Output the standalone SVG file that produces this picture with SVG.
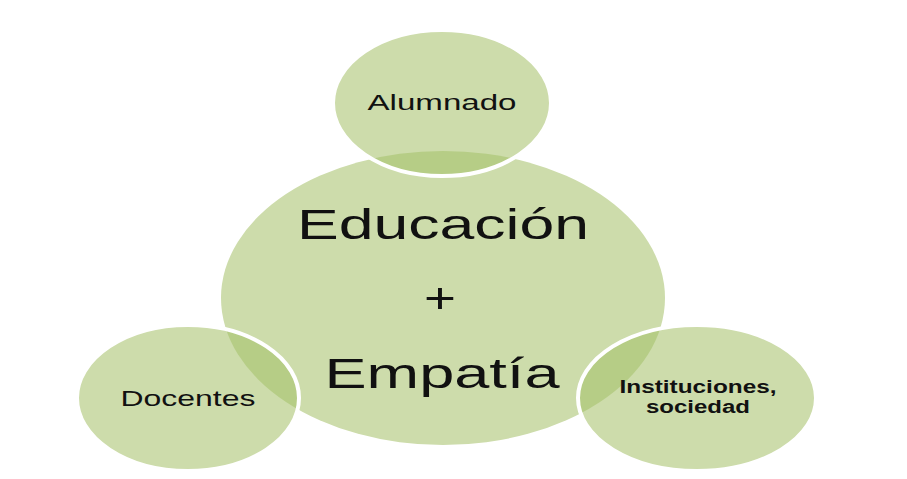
<svg xmlns="http://www.w3.org/2000/svg" width="907" height="479" viewBox="0 0 907 479">
<style>
.c{fill:#cddcab}
.s{fill:none;stroke:#ffffff;stroke-width:4}
.o{fill:#b6cd86}
.t{font-family:"Liberation Sans","DejaVu Sans",sans-serif;fill:#111111;text-anchor:middle}
</style>
<defs>
<clipPath id="cA"><ellipse cx="442" cy="103" rx="109" ry="73"/></clipPath>
<clipPath id="cD"><ellipse cx="188" cy="398" rx="111" ry="73"/></clipPath>
<clipPath id="cI"><ellipse cx="697" cy="398" rx="119" ry="73"/></clipPath>
</defs>
<rect width="907" height="479" fill="#ffffff"/>
<g id="center">
<ellipse class="c" cx="443" cy="298" rx="222" ry="147"/>
</g>
<g id="alumnado">
<ellipse class="c" cx="442" cy="103" rx="109" ry="73"/>
<ellipse class="o" cx="443" cy="298" rx="222" ry="147" clip-path="url(#cA)"/>
<ellipse class="s" cx="442" cy="103" rx="109" ry="73"/>
<text class="t" x="442" y="110" font-size="22" textLength="149" lengthAdjust="spacingAndGlyphs">Alumnado</text>
</g>
<g id="docentes">
<ellipse class="c" cx="188" cy="398" rx="111" ry="73"/>
<ellipse class="o" cx="443" cy="298" rx="222" ry="147" clip-path="url(#cD)"/>
<ellipse class="s" cx="188" cy="398" rx="111" ry="73"/>
<text class="t" x="188" y="406" font-size="22" textLength="135" lengthAdjust="spacingAndGlyphs">Docentes</text>
</g>
<g id="instituciones">
<ellipse class="c" cx="697" cy="398" rx="119" ry="73"/>
<ellipse class="o" cx="443" cy="298" rx="222" ry="147" clip-path="url(#cI)"/>
<ellipse class="s" cx="697" cy="398" rx="119" ry="73"/>
<text class="t" x="698" y="393" font-size="18" font-weight="bold" textLength="157" lengthAdjust="spacingAndGlyphs">Instituciones,</text>
<text class="t" x="698" y="413" font-size="18" font-weight="bold" textLength="104" lengthAdjust="spacingAndGlyphs">sociedad</text>
</g>
<g id="center-text">
<text class="t" x="443" y="239" font-size="43" textLength="292" lengthAdjust="spacingAndGlyphs">Educación</text>
<text class="t" x="440" y="313" font-size="43" textLength="32" lengthAdjust="spacingAndGlyphs">+</text>
<text class="t" x="442" y="388" font-size="43" textLength="235" lengthAdjust="spacingAndGlyphs">Empatía</text>
</g>
<g id="connectors"></g>
</svg>
